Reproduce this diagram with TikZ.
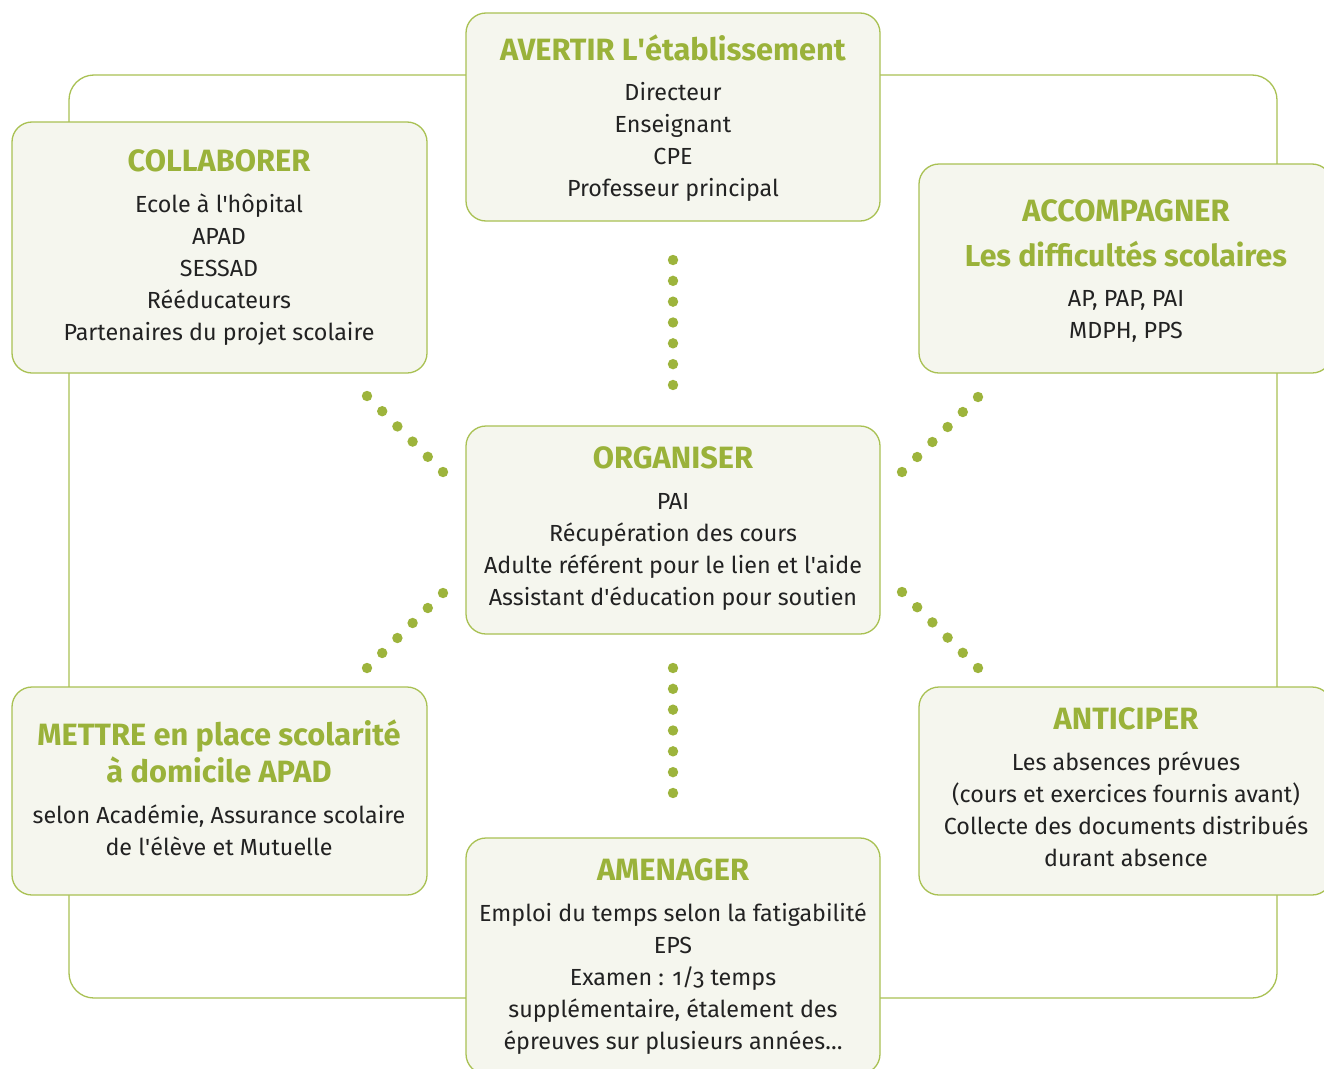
\documentclass[tikz,border=0pt]{standalone}
\usepackage{fontspec}
\setmainfont{Fira Sans}
\newfontfamily\oldnum{Fira Sans}[Numbers=OldStyle]
\newcommand{\ap}{\textquotesingle}
\definecolor{titlegreen}{HTML}{9AB23A}
\definecolor{boxline}{HTML}{A9C153}
\definecolor{boxfill}{HTML}{F5F6EE}
\definecolor{textdark}{HTML}{222222}
\definecolor{dotgreen}{HTML}{9DB43C}
\begin{document}
\begin{tikzpicture}[x=1pt,y=-1pt,
  box/.style={draw=boxline, line width=1.3pt, fill=boxfill, rounded corners=20pt, inner sep=0pt},
  ttl/.style={anchor=base, text=titlegreen, font=\fontsize{30.8}{31}\selectfont\bfseries, inner sep=0pt},
  body/.style={anchor=base, text=textdark, font=\fontsize{23.3}{24}\selectfont, inner sep=0pt},
  frame/.style={draw=boxline, line width=1.3pt, rounded corners=25pt},
  dot/.style={fill=dotgreen}]
\clip (0,0) rectangle (1324,1068);
\useasboundingbox (0,0) rectangle (1324,1068);
\fill[white] (0,0) rectangle (1324,1068);
% outer frame
\draw[frame] (69,75) rectangle (1277,998);
% boxes
\node[box, minimum width=414pt, minimum height=208pt] (av) at (673,117) {};
\node[box, minimum width=415pt, minimum height=251pt] (col) at (219.5,247.5) {};
\node[box, minimum width=413pt, minimum height=209pt] (acc) at (1125.5,268.5) {};
\node[box, minimum width=414pt, minimum height=208pt] (org) at (673,530) {};
\node[box, minimum width=415pt, minimum height=208pt] (met) at (219.5,791) {};
\node[box, minimum width=413pt, minimum height=208pt] (ant) at (1125.5,791) {};
\node[box, minimum width=414pt, minimum height=236pt] (ame) at (673,956) {};
% AVERTIR
\node[ttl] (avt) at (673,60) {AVERTIR L\ap établissement};
\foreach \t [count=\i from 0] in {Directeur, Enseignant, CPE, Professeur principal}
  \node[body] (av-\i) at (673,100+32*\i) {\t};
% COLLABORER
\node[ttl] (colt) at (219,171) {COLLABORER};
\foreach \t [count=\i from 0] in {Ecole à l\ap hôpital, APAD, SESSAD, Rééducateurs, Partenaires du projet scolaire}
  \node[body] (col-\i) at (219,212+32*\i) {\t};
% ACCOMPAGNER
\node[ttl] (acct) at (1126,221) {ACCOMPAGNER};
\node[ttl, font=\fontsize{30.3}{31}\selectfont\bfseries] (acct2) at (1126,266) {Les difficultés scolaires};
\foreach \t [count=\i from 0] in {{AP, PAP, PAI}, {MDPH, PPS}}
  \node[body] (acc-\i) at (1126,306+32*\i) {\t};
% ORGANISER
\node[ttl] (orgt) at (673,468) {ORGANISER};
\foreach \t [count=\i from 0] in {PAI, Récupération des cours, Adulte référent pour le lien et l\ap aide, Assistant d\ap éducation pour soutien}
  \node[body] (org-\i) at (673,509+32*\i) {\t};
% METTRE
\node[ttl] (mett) at (219,745) {METTRE en place scolarité};
\node[ttl] (mett2) at (219,782) {à domicile APAD};
\foreach \t [count=\i from 0] in {{selon Académie, Assurance scolaire}, de l\ap élève et Mutuelle}
  \node[body] (met-\i) at (219,823+32*\i) {\t};
% ANTICIPER
\node[ttl] (antt) at (1126,729) {ANTICIPER};
\foreach \t [count=\i from 0] in {Les absences prévues, (cours et exercices fournis avant), Collecte des documents distribués, durant absence}
  \node[body] (ant-\i) at (1126,770+32*\i) {\t};
% AMENAGER
\node[ttl] (amet) at (673,880) {AMENAGER};
\foreach \t [count=\i from 0] in {Emploi du temps selon la fatigabilité, EPS, {Examen : {\oldnum 1/3} temps}, {supplémentaire, étalement des}, épreuves sur plusieurs années…}
  \node[body] (ame-\i) at (673,921+32*\i) {\t};
% dotted links
\foreach \k in {0,...,6} {
  \fill[dot] (673,260+20.83*\k) circle (5.2pt);
  \fill[dot] (673,668+20.83*\k) circle (5.2pt);
}
\foreach \k in {0,...,5} {
  \fill[dot] (367+15.2*\k,396+15.2*\k) circle (5.2pt);
  \fill[dot] (978-15.2*\k,397+15*\k) circle (5.2pt);
  \fill[dot] (443-15.2*\k,593+15*\k) circle (5.2pt);
  \fill[dot] (902+15.2*\k,592+15.2*\k) circle (5.2pt);
}
\end{tikzpicture}
\end{document}
